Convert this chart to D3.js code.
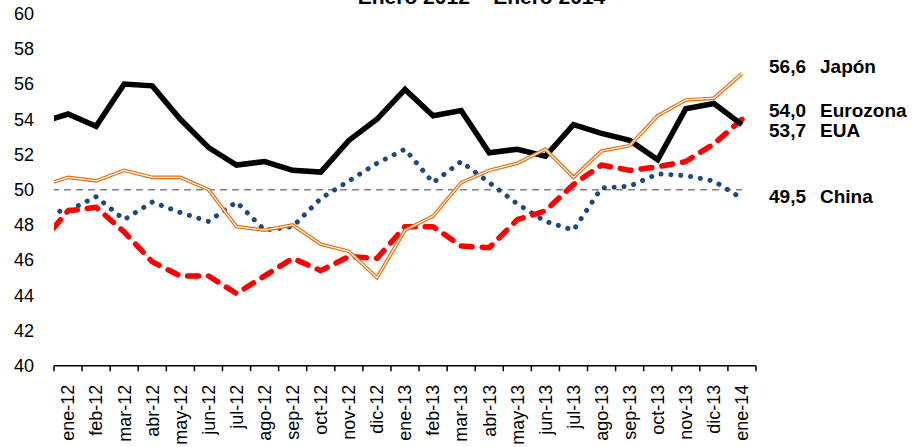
<!DOCTYPE html>
<html>
<head>
<meta charset="utf-8">
<script src="https://cdn.jsdelivr.net/npm/d3@7"></script>
<style>
  body { margin: 0; background: #fff; }
  svg { display: block; font-family: Arial, "Liberation Sans", sans-serif; }
</style>
</head>
<body>
<svg id="chart" width="914" height="447"></svg>
<script>
const CHART_SIZE = { width: 914, height: 447 };
const PLOT = { left: 54, right: 756, top: 13.7, bottom: 365.7 };

// dic-11 only feeds the clipped first segment, it has no label
const prevMonth = "dic-11";
const months = ["ene-12", "feb-12", "mar-12", "abr-12", "may-12", "jun-12", "jul-12",
  "ago-12", "sep-12", "oct-12", "nov-12", "dic-12", "ene-13", "feb-13", "mar-13",
  "abr-13", "may-13", "jun-13", "jul-13", "ago-13", "sep-13", "oct-13", "nov-13",
  "dic-13", "ene-14"];

const eua = [53.8, 54.3, 53.6, 56.0, 55.9, 54.0, 52.4, 51.4, 51.6, 51.1, 51.0, 52.8, 54.0,
  55.7, 54.2, 54.5, 52.1, 52.3, 51.9, 53.7, 53.2, 52.8, 51.7, 54.6, 54.9, 53.7];
const eurozona = [46.9, 48.8, 49.0, 47.6, 45.9, 45.1, 45.1, 44.1, 45.1, 46.1, 45.4, 46.2, 46.1,
  47.9, 47.9, 46.8, 46.7, 48.3, 48.8, 50.3, 51.4, 51.1, 51.3, 51.6, 52.6, 54.0];
const japon = [50.2, 50.7, 50.5, 51.1, 50.7, 50.7, 50.0, 47.9, 47.7, 48.0, 46.9, 46.5, 45.0,
  47.7, 48.5, 50.4, 51.1, 51.5, 52.3, 50.7, 52.2, 52.5, 54.2, 55.1, 55.2, 56.6];
const china = [48.7, 48.8, 49.6, 48.3, 49.3, 48.7, 48.2, 49.3, 47.7, 47.9, 49.5, 50.5, 51.5,
  52.3, 50.4, 51.6, 50.4, 49.2, 48.2, 47.7, 50.1, 50.2, 50.9, 50.8, 50.5, 49.5];
const threshold = 50;

const yTicks = [40, 42, 44, 46, 48, 50, 52, 54, 56, 58, 60];
const endLabels = [
  { value: "56,6", name: "Japón", y: 73 },
  { value: "54,0", name: "Eurozona", y: 116.5 },
  { value: "53,7", name: "EUA", y: 137 },
  { value: "49,5", name: "China", y: 202.5 }
];
const title = "Enero 2012 \u2013 Enero 2014";

const allMonths = [prevMonth, ...months];
const step = (PLOT.right - PLOT.left) / months.length;

const x = d3.scaleBand()
  .domain(allMonths)
  .range([PLOT.left - step, PLOT.right]);

const y = d3.scaleLinear()
  .domain([40, 60])
  .range([PLOT.bottom, PLOT.top]);

const svg = d3.select("#chart");

svg.append("defs").append("clipPath").attr("id", "plot-clip")
  .append("rect")
  .attr("x", PLOT.left)
  .attr("y", 0)
  .attr("width", PLOT.right - PLOT.left)
  .attr("height", PLOT.bottom);

// title sits mostly above the top edge, as in the source
svg.append("text")
  .attr("x", 481.5)
  .attr("y", 4)
  .attr("text-anchor", "middle")
  .attr("font-size", 21)
  .attr("font-weight", "bold")
  .text(title);

// y tick labels, no axis line
svg.append("g")
  .selectAll("text")
  .data(yTicks)
  .enter()
  .append("text")
  .attr("x", 34)
  .attr("y", d => y(d))
  .attr("dy", "0.35em")
  .attr("text-anchor", "end")
  .attr("font-size", 18)
  .text(d => d);

// x axis: labels centred in bands, ticks on band edges
const xAxis = d3.axisBottom(x).tickValues(months).tickSize(0).tickSizeOuter(0);
const xg = svg.append("g")
  .attr("transform", `translate(0,${PLOT.bottom})`)
  .call(xAxis);
xg.select(".domain").remove();
xg.selectAll(".tick text")
  .attr("font-size", 18)
  .attr("font-family", null)
  .attr("fill", "#000")
  .attr("text-anchor", "end")
  .attr("x", -19)
  .attr("y", 0)
  .attr("dy", "0.35em")
  .attr("transform", "rotate(-90)");

const edges = months.map(m => x(m)).concat([x(months[months.length - 1]) + x.bandwidth()]);
svg.append("line")
  .attr("x1", edges[0]).attr("x2", edges[edges.length - 1])
  .attr("y1", PLOT.bottom).attr("y2", PLOT.bottom)
  .attr("stroke", "#000").attr("stroke-width", 1.5);
svg.append("g")
  .selectAll("line")
  .data(edges)
  .enter()
  .append("line")
  .attr("x1", d => d).attr("x2", d => d)
  .attr("y1", PLOT.bottom).attr("y2", PLOT.bottom + 5.5)
  .attr("stroke", "#000").attr("stroke-width", 1.5);

const line = d3.line()
  .x((d, i) => x(allMonths[i]) + x.bandwidth() / 2)
  .y(d => y(d));

const plot = svg.append("g").attr("clip-path", "url(#plot-clip)");

plot.append("path")
  .attr("d", line(allMonths.map(() => threshold)))
  .attr("fill", "none")
  .attr("stroke", "#808080")
  .attr("stroke-width", 1.5)
  .attr("stroke-dasharray", "7,5");

plot.append("path")
  .attr("d", line(china))
  .attr("fill", "none")
  .attr("stroke", "#1f497d")
  .attr("stroke-width", 5)
  .attr("stroke-linecap", "round")
  .attr("stroke-dasharray", "0.1,9.8");

plot.append("path")
  .attr("d", line(eurozona))
  .attr("fill", "none")
  .attr("stroke", "#ff0000")
  .attr("stroke-width", 5.5)
  .attr("stroke-linecap", "round")
  .attr("stroke-linejoin", "round")
  .attr("stroke-dasharray", "11,10");

plot.append("path")
  .attr("d", line(eua))
  .attr("fill", "none")
  .attr("stroke", "#000")
  .attr("stroke-width", 5.5)
  .attr("stroke-linejoin", "miter");

// compound (double) orange line
plot.append("path")
  .attr("d", line(japon))
  .attr("fill", "none")
  .attr("stroke", "#e46c0a")
  .attr("stroke-width", 3.6);
plot.append("path")
  .attr("d", line(japon))
  .attr("fill", "none")
  .attr("stroke", "#fff")
  .attr("stroke-width", 1.2);

const labels = svg.append("g")
  .attr("font-size", 19)
  .attr("font-weight", "bold");
labels.selectAll(".val")
  .data(endLabels)
  .enter()
  .append("text")
  .attr("class", "val")
  .attr("x", 769)
  .attr("y", d => d.y)
  .text(d => d.value);
labels.selectAll(".name")
  .data(endLabels)
  .enter()
  .append("text")
  .attr("class", "name")
  .attr("x", 820)
  .attr("y", d => d.y)
  .text(d => d.name);
</script>
</body>
</html>
